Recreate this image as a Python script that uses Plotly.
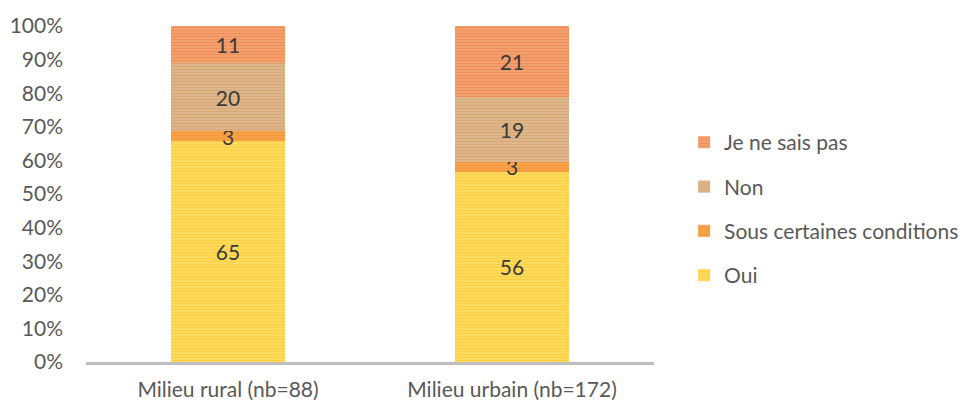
import plotly.graph_objects as go

# Survey answers by area (counts shown in the bars, stacked to 100%)
categories = ["Milieu rural (nb=88)", "Milieu urbain (nb=172)"]
series_names = ["Oui", "Sous certaines conditions", "Non", "Je ne sais pas"]
oui = [65, 56]
sous_conditions = [3, 3]
non = [20, 19]
ne_sais_pas = [11, 21]
y_ticks = [0, 10, 20, 30, 40, 50, 60, 70, 80, 90, 100]
y_tick_labels = [f"{t}%" for t in y_ticks]

series_values = [oui, sous_conditions, non, ne_sais_pas]
# (stripe colour, background colour) for each series
palette = [
    ("#FFC20E", "#FBDD6A"),
    ("#F58A22", "#F8A550"),
    ("#C99358", "#E0BC92"),
    ("#EE7634", "#F3A679"),
]

FONT = "Lato, Open Sans, sans-serif"

fig = go.Figure()
n = len(series_names)
for i, (name, vals, (fg, bg)) in enumerate(zip(series_names, series_values, palette)):
    fig.add_trace(go.Bar(
        x=categories,
        y=vals,
        name=name,
        legendgroup=name,
        legendrank=n - i,  # top segment listed first
        text=[str(v) for v in vals],
        textposition="inside",
        insidetextanchor="middle",
        textangle=0,
        textfont=dict(family=FONT, size=21, color="#3A3A3A"),
        marker=dict(
            color=bg,
            line=dict(width=0),
            pattern=dict(shape="-", fgcolor=fg, bgcolor=bg, size=3, solidity=0.5),
        ),
        width=0.4,
        hoverinfo="skip",
    ))

fig.update_layout(
    barmode="stack",
    barnorm="percent",
    width=960,
    height=404,
    margin=dict(l=86, r=306, t=26, b=42, autoexpand=False),
    paper_bgcolor="white",
    plot_bgcolor="white",
    font=dict(family=FONT, size=21, color="#595959"),
    uniformtext=dict(minsize=21, mode="show"),
    showlegend=True,
    legend=dict(
        traceorder="grouped",
        x=1.053,
        xanchor="left",
        y=0.455,
        yanchor="middle",
        tracegroupgap=14,
        font=dict(family=FONT, size=21, color="#595959"),
        itemwidth=30,
    ),
    xaxis=dict(
        showline=True,
        linecolor="#BFBFBF",
        linewidth=3,
        ticks="",
        showgrid=False,
        ticklabelstandoff=7,
        tickfont=dict(family=FONT, size=21, color="#595959"),
    ),
    yaxis=dict(
        range=[0, 100],
        tickmode="array",
        tickvals=y_ticks,
        ticktext=y_tick_labels,
        showgrid=False,
        zeroline=False,
        showline=False,
        ticks="",
        ticklabelstandoff=22,
        tickfont=dict(family=FONT, size=21, color="#595959"),
    ),
)

fig.write_html("out.html")
